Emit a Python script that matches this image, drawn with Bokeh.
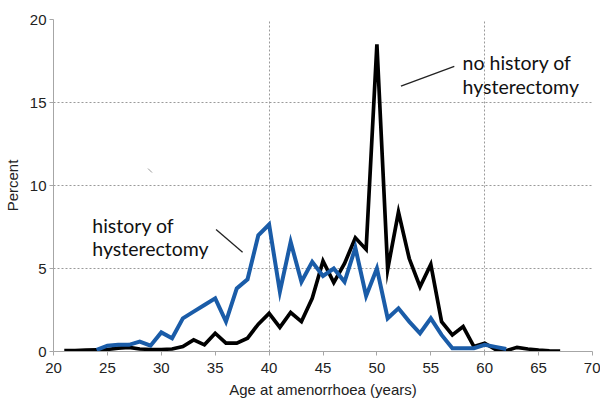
from bokeh.plotting import figure
from bokeh.models import FixedTicker, Label
from bokeh.embed import file_html
from bokeh.resources import INLINE

# ---- data (percent of women by age at amenorrhoea) ----
age_no_hyst = list(range(21, 68))
pct_no_hyst = [0.05, 0.05, 0.08, 0.1, 0.12, 0.2, 0.25, 0.15, 0.12, 0.12, 0.15,
               0.3, 0.7, 0.4, 1.1, 0.5, 0.5, 0.8, 1.65, 2.3, 1.45,
               2.35, 1.8, 3.2, 5.45, 4.15, 5.3, 6.85, 6.15, 18.5, 4.95,
               8.4, 5.6, 3.9, 5.25, 1.8, 1.0, 1.5, 0.3, 0.5, 0.12,
               0.05, 0.25, 0.15, 0.08, 0.04, 0.03]

age_hyst = list(range(24, 63))
pct_hyst = [0.1, 0.35, 0.4, 0.4, 0.6, 0.35, 1.15, 0.8, 2.0, 2.4,
            2.8, 3.2, 1.8, 3.8, 4.35, 7.0, 7.65, 3.6, 6.6, 4.2,
            5.4, 4.55, 5.0, 4.2, 6.25, 3.35, 5.0, 2.0, 2.6, 1.8,
            1.1, 2.0, 1.0, 0.2, 0.2, 0.2, 0.4, 0.28, 0.15]

x_ticks = [20, 25, 30, 35, 40, 45, 50, 55, 60, 65, 70]
y_ticks = [0, 5, 10, 15, 20]
x_grid = [40, 60]
y_grid = [5, 10, 15, 20]

label_no_hyst = ["no history of", "hysterectomy"]
label_hyst = ["history of", "hysterectomy"]

AXIS_GREY = "#a6a6a6"
GRID_GREY = "#9a9a9a"
BLUE = "#1a5ca8"

p = figure(width=600, height=406, x_range=(20, 70), y_range=(0, 20),
           output_backend="svg", toolbar_location=None,
           min_border_left=50, min_border_right=8,
           min_border_top=19, min_border_bottom=55)
p.outline_line_color = None
p.background_fill_color = "white"
p.border_fill_color = "white"

# grids
p.xgrid.ticker = FixedTicker(ticks=x_grid)
p.ygrid.ticker = FixedTicker(ticks=y_grid)
for g in (p.xgrid, p.ygrid):
    g.grid_line_color = GRID_GREY
    g.grid_line_dash = "2 2"
    g.grid_line_width = 1

# axes
p.xaxis.ticker = FixedTicker(ticks=x_ticks)
p.yaxis.ticker = FixedTicker(ticks=y_ticks)
for ax in (p.xaxis, p.yaxis):
    ax.axis_line_color = AXIS_GREY
    ax.major_tick_line_color = AXIS_GREY
    ax.minor_tick_line_color = None
    ax.major_tick_in = 0
    ax.major_tick_out = 4
    ax.major_label_text_font = "Liberation Sans"
    ax.major_label_text_font_size = "15px"
    ax.major_label_text_color = "#222222"
    ax.axis_label_text_font = "Liberation Sans"
    ax.axis_label_text_font_size = "15px"
    ax.axis_label_text_font_style = "normal"
    ax.axis_label_text_color = "#222222"
p.xaxis.axis_label = "Age at amenorrhoea (years)"
p.yaxis.axis_label = "Percent"
p.xaxis.major_label_standoff = 7
p.xaxis.axis_label_standoff = 5
p.yaxis.major_label_standoff = 3
p.yaxis.axis_label_standoff = 6

# series
p.line(age_no_hyst, pct_no_hyst, line_color="black", line_width=3.7,
       line_join="miter")
p.line(age_hyst, pct_hyst, line_color=BLUE, line_width=4,
       line_join="miter")

# annotations
ANN_FONT = "Lato"
ANN_SIZE = "19.5px"
for txt, yy in zip(label_no_hyst, [17.41, 15.96]):
    p.add_layout(Label(x=57.95, y=yy, text=txt, text_font=ANN_FONT,
                       text_font_size=ANN_SIZE, text_color="#111111",
                       text_baseline="alphabetic", text_align="left"))
for txt, yy in zip(label_hyst, [7.59, 6.2]):
    p.add_layout(Label(x=23.6, y=yy, text=txt, text_font=ANN_FONT,
                       text_font_size=ANN_SIZE, text_color="#111111",
                       text_baseline="alphabetic", text_align="left"))

# pointer lines
p.line([52.23, 57.18], [15.98, 17.17], line_color="#222222", line_width=1.3)
p.line([35.08, 37.54], [7.35, 5.98], line_color="#222222", line_width=1.3)
# small stray mark
p.line([28.77, 29.14], [11.02, 10.78], line_color="#999999", line_width=1)

open("out.html", "w").write(file_html(p, INLINE))
